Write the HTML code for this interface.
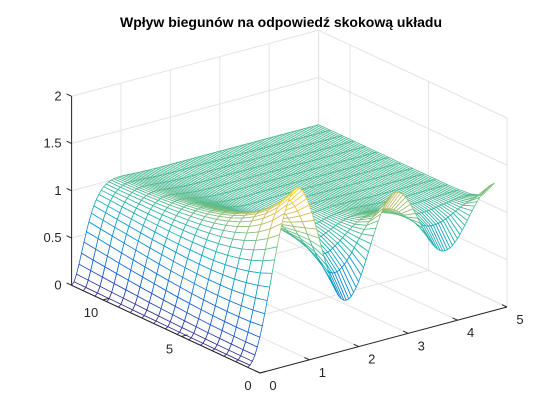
<!DOCTYPE html>
<html><head><meta charset="utf-8"><style>
html,body{margin:0;padding:0;background:#fff;}
svg{display:block;font-family:"Liberation Sans",Arial,sans-serif;}
</style></head><body>
<svg id="chart" width="560" height="420" viewBox="0 0 560 420" xmlns="http://www.w3.org/2000/svg">
<rect x="0" y="0" width="560" height="420" fill="#fff"/>
<text x="281" y="27" text-anchor="middle" font-size="14" font-weight="bold" fill="#000">Wpływ biegunów na odpowiedź skokową układu</text>
<g id="grid"></g>
<g id="surface"></g>
<g id="axes"></g>
</svg>
<script>
// axis ticks
const xTicks = [0, 1, 2, 3, 4, 5];
const yTicks = [0, 5, 10];
const zTicks = [0, 0.5, 1, 1.5, 2];
const xLim = [0, 5];
const yLim = [0, 12];
const zLim = [0, 2];
const colorLim = [0, 1.85];
// surface grid: time samples (x) and pole parameter samples (y)
const timeStep = 0.05;
const poleStart = 0.8;
const poleEnd = 12;
const poleCount = 16;
// damping per unit of pole parameter and oscillation frequency
const dampingPerPole = [0.35];
const omegaValues = [Math.PI];

const NS = "http://www.w3.org/2000/svg";
function P(a, b, z) {
  return [260 + 49.4 * a - 15.7 * b, 373 - 13.2 * a - 7.31 * b - 94.5 * z];
}
function el(tag, attrs, parent) {
  const e = document.createElementNS(NS, tag);
  for (const k in attrs) e.setAttribute(k, attrs[k]);
  parent.appendChild(e);
  return e;
}
function stepResp(t, b) {
  const s = dampingPerPole[0] * b, w = omegaValues[0];
  return 1 - Math.exp(-s * t) * (Math.cos(w * t) + s / w * Math.sin(w * t));
}
const parula = [[53,42,135],[15,92,221],[18,125,216],[7,156,207],[46,183,164],[135,191,119],[209,187,89],[254,200,50],[249,251,14]];
function cmap(v) {
  v = Math.max(0, Math.min(1, v)) * 8;
  const i = Math.min(7, Math.floor(v)), f = v - i;
  const c = parula[i].map((c0, k) => Math.round(c0 + (parula[i + 1][k] - c0) * f));
  return "rgb(" + c.join(",") + ")";
}

// gridlines
const grid = document.getElementById("grid");
function gline(p, q, name) {
  const l = el("line", {x1: p[0], y1: p[1], x2: q[0], y2: q[1], stroke: "#e3e3e3", "stroke-width": 1}, grid);
  
  
}
xTicks.forEach(a => {
  gline(P(a, yLim[1], 0), P(a, yLim[1], zLim[1]), "back-wall-gridline-x");
  gline(P(a, yLim[0], 0), P(a, yLim[1], 0), "floor-gridline-x");
});
yTicks.forEach(b => {
  gline(P(xLim[1], b, 0), P(xLim[1], b, zLim[1]), "side-wall-gridline-y");
  gline(P(xLim[0], b, 0), P(xLim[1], b, 0), "floor-gridline-y");
});
zTicks.forEach(z => {
  gline(P(xLim[0], yLim[1], z), P(xLim[1], yLim[1], z), "back-wall-gridline-z");
  gline(P(xLim[1], yLim[1], z), P(xLim[1], yLim[0], z), "side-wall-gridline-z");
});
gline(P(xLim[1], yLim[1], 0), P(xLim[1], yLim[1], zLim[1]), "box-edge");
gline(P(xLim[1], yLim[0], 0), P(xLim[1], yLim[0], zLim[1]), "box-edge");

// surface
const surf = document.getElementById("surface");
const ts = [];
for (let i = 0; i <= Math.round((xLim[1] - xLim[0]) / timeStep); i++) ts.push(i * timeStep);
const bs = [];
for (let j = 0; j < poleCount; j++) bs.push(poleStart + (poleEnd - poleStart) * j / (poleCount - 1));
const Z = bs.map(b => ts.map(t => stepResp(t, b)));
const quads = [];
for (let j = 0; j < bs.length - 1; j++) {
  for (let i = 0; i < ts.length - 1; i++) {
    const ac = (ts[i] + ts[i + 1]) / 2, bc = (bs[j] + bs[j + 1]) / 2;
    quads.push({i, j, d: 373 - 13.2 * ac - 7.31 * bc});
  }
}
quads.sort((p, q) => p.d - q.d);
quads.forEach(q => {
  const {i, j} = q;
  const pts = [[i, j], [i + 1, j], [i + 1, j + 1], [i, j + 1]].map(([ii, jj]) => P(ts[ii], bs[jj], Z[jj][ii]));
  const zm = (Z[j][i] + Z[j][i + 1] + Z[j + 1][i] + Z[j + 1][i + 1]) / 4;
  const poly = el("polygon", {
    points: pts.map(p => p[0].toFixed(1) + "," + p[1].toFixed(1)).join(" "),
    fill: "#fff", stroke: cmap((zm - colorLim[0]) / (colorLim[1] - colorLim[0])), "stroke-width": 0.8, "stroke-linejoin": "round"
  }, surf);
  
  
});

// axes
const axes = document.getElementById("axes");
function aline(p, q, name) {
  const l = el("line", {x1: p[0], y1: p[1], x2: q[0], y2: q[1], stroke: "#262626", "stroke-width": 1}, axes);
  
  
}
function atext(x, y, s, anchor, name) {
  const t = el("text", {x: x, y: y, "font-size": 13, fill: "#262626", "text-anchor": anchor}, axes);
  t.textContent = s;
  
  
}
aline(P(xLim[0], yLim[0], 0), P(xLim[1], yLim[0], 0), "x-axis-line");
aline(P(xLim[0], yLim[0], 0), P(xLim[0], yLim[1], 0), "y-axis-line");
aline(P(xLim[0], yLim[1], zLim[0]), P(xLim[0], yLim[1], zLim[1]), "z-axis-line");
xTicks.forEach(a => {
  const p = P(a, yLim[0], 0);
  aline(p, [p[0] - 5, p[1] - 2.3], "x-tick");
  atext(p[0] + 13, p[1] + 17, String(a), "middle", "x-tick-label");
});
yTicks.forEach(b => {
  const p = P(xLim[0], b, 0);
  aline(p, [p[0] + 6, p[1] - 1.6], "y-tick");
  atext(p[0] - 12, p[1] + 17, String(b), "middle", "y-tick-label");
});
zTicks.forEach(z => {
  const p = P(xLim[0], yLim[1], z);
  aline(p, [p[0] - 5, p[1] - 2.3], "z-tick");
  atext(p[0] - 10, p[1] + 4, String(z), "end", "z-tick-label");
});
</script>
</body></html>
